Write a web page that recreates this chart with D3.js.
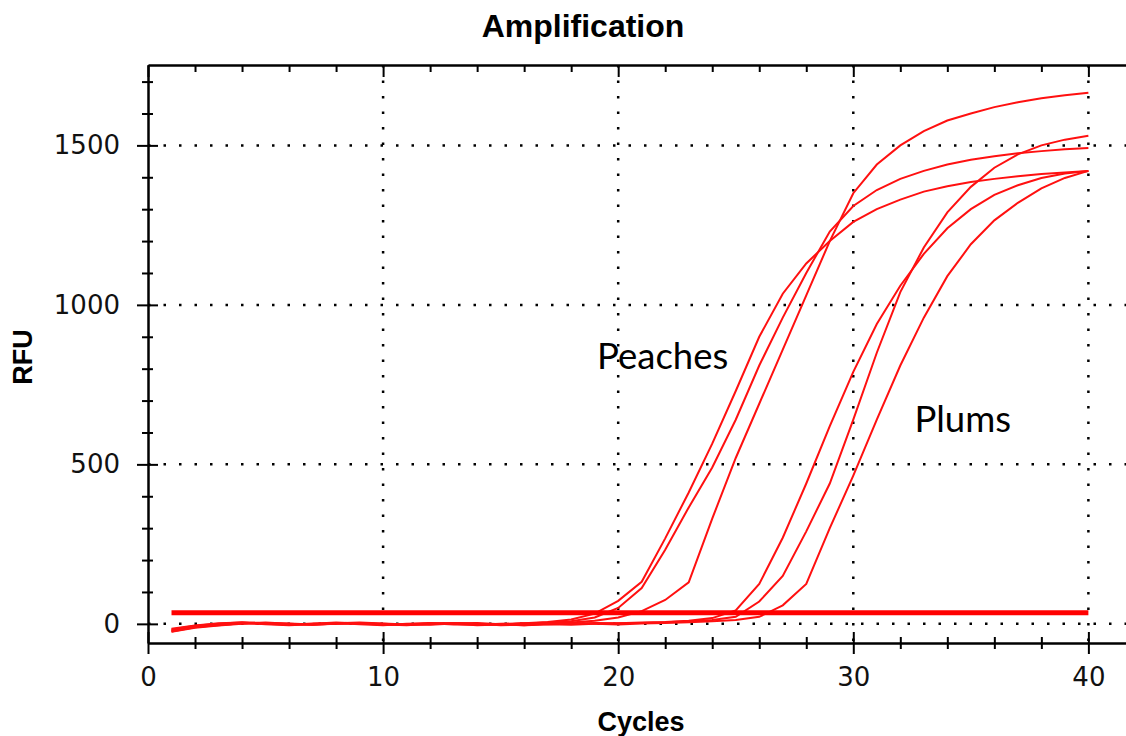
<!DOCTYPE html>
<html>
<head>
<meta charset="utf-8">
<script src="https://cdn.jsdelivr.net/npm/d3@7"></script>
<style>
  body { margin: 0; background: #fff; }
  svg { display: block; }
</style>
</head>
<body>
<svg id="chart" width="1126" height="736"></svg>
<script>
// cycle numbers
var cycles = [1, 2, 3, 4, 5, 6, 7, 8, 9, 10, 11, 12, 13, 14, 15, 16, 17, 18, 19, 20,
  21, 22, 23, 24, 25, 26, 27, 28, 29, 30, 31, 32, 33, 34, 35, 36, 37, 38, 39, 40]

// RFU per cycle
var peach1 = [-22, -10, -4, 2, 4, 0, -3, 1, 3, -2, -4, 0, 2, -1, -3, 2, 6, 14, 32, 72,
  132, 268, 412, 565, 730, 900, 1035, 1130, 1200, 1260, 1300, 1330, 1355, 1372, 1385, 1395, 1403, 1410, 1415, 1420]
var peach2 = [-18, -6, 0, 5, 2, -2, 0, 4, 1, -3, -1, 3, 0, -4, -2, 1, 4, 8, 20, 50,
  112, 232, 365, 490, 640, 810, 960, 1100, 1230, 1310, 1360, 1395, 1420, 1440, 1455, 1466, 1475, 1482, 1488, 1492]
var peach3 = [-25, -12, -5, 0, 3, 1, -2, 0, 2, 0, -3, -1, 2, 0, -2, -4, 0, 4, 10, 20,
  40, 75, 130, 330, 520, 690, 860, 1030, 1200, 1350, 1440, 1500, 1545, 1578, 1600, 1620, 1635, 1648, 1657, 1665]
var plum1 = [-20, -9, -2, 3, 0, -3, 1, 3, -1, -4, 0, 2, -2, -3, 0, 2, -1, -3, 0, 2,
  4, 6, 10, 18, 42, 125, 270, 440, 620, 790, 940, 1060, 1160, 1240, 1300, 1345, 1375, 1398, 1412, 1420]
var plum2 = [-15, -5, 2, 4, -1, -4, -1, 2, 4, 1, -2, -3, 1, 3, -1, -4, -2, 1, 3, 2,
  3, 5, 8, 12, 22, 70, 150, 290, 440, 640, 850, 1040, 1180, 1290, 1370, 1430, 1472, 1500, 1518, 1530]
var plum3 = [-24, -11, -3, 1, 2, -1, -3, 0, 2, -1, -3, 1, 3, 0, -4, -2, 1, 3, 0, -2,
  1, 3, 5, 8, 12, 22, 58, 125, 300, 465, 640, 810, 960, 1090, 1190, 1265, 1320, 1365, 1398, 1420]
var threshold = 35

var xTicks = [0, 10, 20, 30, 40]
var yTicks = [0, 500, 1000, 1500]
var labels = [{ text: 'Peaches', cycle: 19.1, rfu: 800 }, { text: 'Plums', cycle: 32.6, rfu: 600 }]

var svg = d3.select('#chart'),
  plotLeft = 148, plotRight = 1126, plotTop = 65, plotBottom = 643

var x = d3.scaleLinear().domain([0, 41.6]).range([plotLeft, plotRight])
var y = d3.scaleLinear().domain([-60, 1752]).range([plotBottom, plotTop])

// dotted grid
svg.append('g')
  .selectAll('line')
  .data(xTicks.slice(1))
  .enter().append('line')
  .attr('x1', function (d) { return x(d) }).attr('x2', function (d) { return x(d) })
  .attr('y1', plotTop).attr('y2', plotBottom)
  .attr('stroke', '#000').attr('stroke-width', 2.5).attr('stroke-dasharray', '2.5,13')

svg.append('g')
  .selectAll('line')
  .data(yTicks)
  .enter().append('line')
  .attr('x1', plotLeft).attr('x2', plotRight)
  .attr('y1', function (d) { return y(d) }).attr('y2', function (d) { return y(d) })
  .attr('stroke', '#000').attr('stroke-width', 2.5).attr('stroke-dasharray', '2.5,13')

// curves
var line = d3.line()
  .x(function (d, i) { return x(cycles[i]) })
  .y(function (d) { return y(d) })

var series = [peach1, peach2, peach3, plum1, plum2, plum3]
svg.append('g')
  .selectAll('path')
  .data(series)
  .enter().append('path')
  .attr('d', line)
  .attr('fill', 'none')
  .attr('stroke', '#ff1010')
  .attr('stroke-width', 2)

svg.append('line')
  .attr('x1', x(cycles[0])).attr('x2', x(cycles[cycles.length - 1]))
  .attr('y1', y(threshold)).attr('y2', y(threshold))
  .attr('stroke', '#ff0000').attr('stroke-width', 5)

// axes
var tickFont = 'DejaVu Sans, Verdana, sans-serif'
var minorX = d3.range(0, 42, 2)
var gx = svg.append('g')
  .attr('transform', 'translate(0,' + plotBottom + ')')
  .call(d3.axisBottom(x).tickValues(minorX).tickSize(0).tickFormat(function (d) { return d % 10 == 0 ? d : '' }))
gx.select('.domain').attr('stroke-width', 2.5)
gx.selectAll('.tick line')
  .attr('y1', function (d) { return d % 10 == 0 ? -11 : -6 })
  .attr('y2', function (d) { return d % 10 == 0 ? 11 : 6 })
  .attr('stroke-width', 2)
gx.selectAll('.tick text')
  .attr('y', 25)
  .attr('dy', '0.71em')
  .style('font-family', tickFont)
  .style('font-size', '26px')
  .attr('fill', '#111')

var gTop = svg.append('g')
  .attr('transform', 'translate(0,' + plotTop + ')')
  .call(d3.axisBottom(x).tickValues(minorX).tickSize(0).tickFormat(''))
gTop.select('.domain').attr('stroke-width', 2.5)
gTop.selectAll('.tick line')
  .attr('y1', 0)
  .attr('y2', function (d) { return d % 10 == 0 ? 12 : 7 })
  .attr('stroke-width', 2)

var minorY = d3.range(0, 1800, 100)
var gy = svg.append('g')
  .attr('transform', 'translate(' + plotLeft + ',0)')
  .call(d3.axisLeft(y).tickValues(minorY).tickSize(0).tickFormat(function (d) { return d % 500 == 0 ? d : '' }))
gy.select('.domain').attr('stroke-width', 2.5)
gy.selectAll('.tick line')
  .attr('x1', function (d) { return d % 500 == 0 ? -11 : -6 })
  .attr('x2', function (d) { return d % 500 == 0 ? 10 : 5 })
  .attr('stroke-width', 2)
gy.selectAll('.tick text')
  .attr('x', -28)
  .style('font-family', tickFont)
  .style('font-size', '26px')
  .attr('fill', '#111')

// titles
svg.append('text')
  .attr('x', 583).attr('y', 37)
  .attr('text-anchor', 'middle')
  .style('font-family', 'Liberation Sans, Arial, sans-serif')
  .style('font-weight', 'bold').style('font-size', '32px')
  .text('Amplification')

svg.append('text')
  .attr('x', 641).attr('y', 731)
  .attr('text-anchor', 'middle')
  .style('font-family', 'Liberation Sans, Arial, sans-serif')
  .style('font-weight', 'bold').style('font-size', '27px')
  .text('Cycles')

svg.append('text')
  .attr('transform', 'translate(32,357) rotate(-90)')
  .attr('text-anchor', 'middle')
  .style('font-family', 'Liberation Sans, Arial, sans-serif')
  .style('font-weight', 'bold').style('font-size', '27px')
  .text('RFU')

svg.selectAll('.note')
  .data(labels)
  .enter().append('text')
  .attr('class', 'note')
  .attr('x', function (d) { return x(d.cycle) })
  .attr('y', function (d) { return y(d.rfu) })
  .style('font-family', 'Lato, Open Sans, sans-serif')
  .style('font-size', '36.5px')
  .text(function (d) { return d.text })
</script>
</body>
</html>
